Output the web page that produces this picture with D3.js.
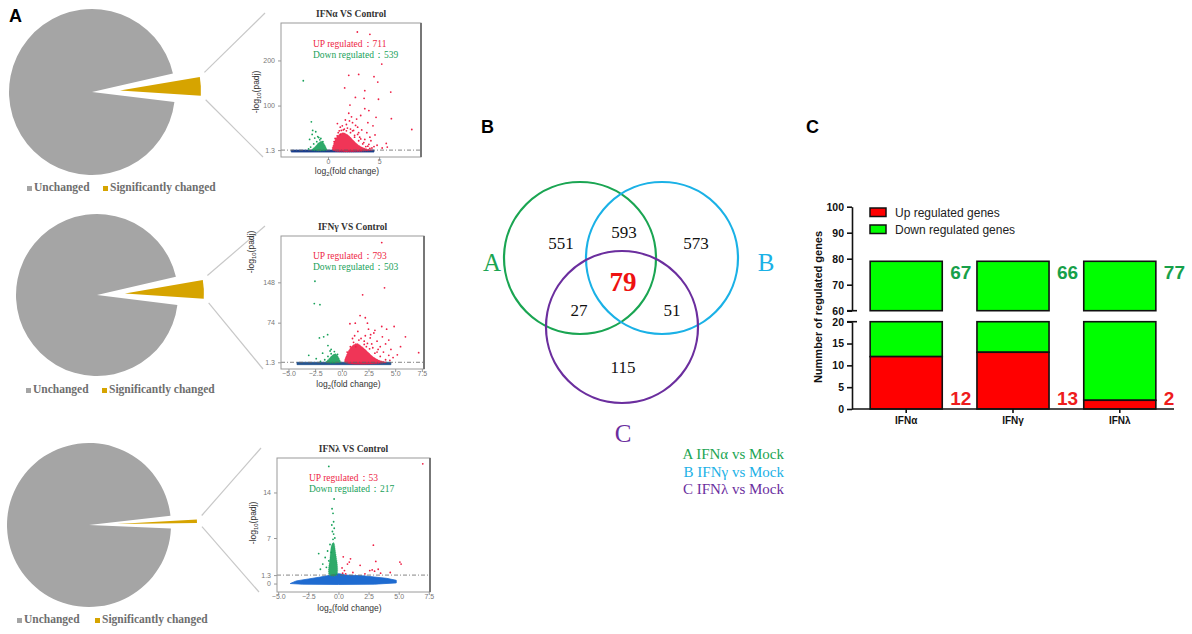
<!DOCTYPE html>
<html>
<head>
<meta charset="utf-8">
<script src="https://cdn.jsdelivr.net/npm/d3@7"></script>
<style>
  body { margin: 0; background: #fff; }
  svg { display: block; }
</style>
</head>
<body>
<svg id="fig" width="1192" height="634"></svg>
<script>
// ---------- data ----------
const pieLegend = ['Unchanged', 'Significantly changed'];
const changedPct = [3.7, 3.8, 0.7];

const volcanoTitles = ['IFNα VS Control', 'IFNγ VS Control', 'IFNλ VS Control'];
const upCounts = [711, 793, 53];
const downCounts = [539, 503, 217];

const v1XTicks = [0, 5];
const v1YTicks = [1.3, 100, 200];
const v2XTicks = [-5, -2.5, 0, 2.5, 5, 7.5];
const v2YTicks = [1.3, 74, 148];
const v3XTicks = [-5, -2.5, 0, 2.5, 5, 7.5];
const v3YTicks = [0, 1.3, 7, 14];

// scattered significant genes [log2FC, -log10 padj]
const v1Up = [[2.87,263],[4.1,258],[5.26,192],[2.03,167],[3.0,169],[4.5,164],[4.87,152],[6.14,130],[1.63,139],
  [3.6,133],[2.68,118],[3.53,116],[4.94,114],[2.15,101],[3.6,93],[4.0,89],[4.7,74],[6.2,71],[8.2,47],[4.6,35],
  [5.7,16],[5.8,8],[2.03,83],[0.92,60],[1.2,52],[1.8,58],[2.4,62],[2.9,52],[3.3,46],[1.5,46],[2.2,48],[3.8,40],
  [2.6,34],[3.1,30],[4.2,22],[3.5,18],[1.1,44],[2.8,70],[3.2,78],[1.7,68],[2.5,45],[4.4,55],[3.9,62],[2.3,75],
  [1.4,55],[3.0,40],[4.1,30],[4.8,12],[5.3,6],[3.7,9],[4.3,6],[2.1,66],[1.9,50],[2.7,56],
  [0.6,20],[0.9,33],[1.3,45],[1.6,48],[2.2,40],[2.6,30],[3.0,22],[3.4,15],[3.9,10],[4.1,5],[1.0,40],[1.8,44],
  [2.9,36],[3.6,25],[4.0,14],[0.7,27],[1.2,36],[2.4,44],[3.2,26],[4.5,9]];
const v1Down = [[-2.42,155],[-1.63,64],[-1.5,45],[-1.2,42],[-1.55,36],[-1.0,31],[-1.8,25],[-1.3,28],[-0.9,29],
  [-1.4,15],[-1.1,20],[-0.8,24],[-1.7,8],[-0.5,20],[-1.9,4],[-0.7,27]];
const v1UpCore = [[0.45,1.3],[0.55,15],[0.8,28],[1.1,36],[1.5,40],[2.0,34],[2.4,25],[2.8,16],[3.3,8],[3.8,4],[4.4,1.3]];
const v1DownCore = [[-1.6,1.3],[-1.3,8],[-0.9,18],[-0.6,21],[-0.35,14],[-0.15,5],[-0.1,1.3]];
const v1Flat = [[-3.6,-3],[-3.6,1.3],[4.5,1.3],[4.5,-3]];

const v2Up = [[3.74,221],[4.0,138],[1.95,125],[1.71,87],[2.2,83],[2.4,73],[3.74,67],[4.2,62],[4.9,67],[4.4,42],
  [5.96,48],[7.2,19],[2.66,46],[1.26,73],[0.76,72],[3.0,55],[3.3,40],[2.8,35],[1.8,45],[2.2,50],[3.6,30],
  [4.6,25],[3.9,20],[5.2,15],[4.8,10],[2.5,62],[1.5,58],[3.1,60],[2.7,52],[1.2,50],[4.1,35],[3.4,25],[2.9,28],
  [5.5,30],[4.4,14],[3.8,48],[2.1,40],[1.0,45],[2.4,36],
  [0.5,20],[0.8,30],[1.1,38],[1.6,42],[2.1,34],[2.6,26],[3.1,18],[3.6,12],[4.1,6],[1.3,30],[2.3,30],[3.3,20],[4.5,5]];
const v2Down = [[-2.52,150],[-2.58,109],[-2.05,107],[-1.33,52],[-2.1,46],[-1.7,48],[-1.3,32],[-3.1,14],[-1.0,25],
  [-1.8,18],[-2.4,8],[-1.1,22],[-1.3,12],[-1.0,17],[-0.7,21],[-1.6,6],[-0.4,16],[-2.0,3]];
const v2UpCore = [[0.3,1.3],[0.45,15],[0.7,25],[1.0,32],[1.4,36],[1.9,30],[2.4,21],[2.9,12],[3.5,5],[4.2,1.3]];
const v2DownCore = [[-1.5,1.3],[-1.2,8],[-0.9,14],[-0.6,17],[-0.35,12],[-0.15,4],[-0.1,1.3]];
const v2Flat = [[-4.2,-3],[-4.2,1.3],[4.6,1.3],[4.6,-3]];

const v3Up = [[7.0,18.4],[2.9,5.9],[0.4,4.1],[0.9,3.3],[0.75,3.0],[1.0,3.8],[1.8,2.8],[3.1,3.4],[2.8,2.1],[3.0,1.9],
  [2.6,2.0],[5.1,3.3],[5.2,3.0],[4.3,1.7],[0.3,2.4],[0.5,2.0],[0.35,1.6],[1.2,1.7],[3.5,1.6],[2.2,1.5],[0.6,1.5],[3.3,2.2]];
const v3Down = [[-0.8,18],[-0.36,13],[-0.53,11.5],[-0.45,10.8],[-0.4,9.5],[-0.35,8.5],[-0.5,8],[-0.3,7],[-0.45,6.8],
  [-1.64,4.6],[-0.7,6],[-0.9,5],[-1.1,4],[-0.6,4.8],[-1.3,3],[-1.5,2.2],[-0.8,3.5],[-1.0,2.5],[-0.4,7.6],[-0.55,9]];
const v3DownCore = [[-0.75,1.3],[-0.7,4],[-0.55,6],[-0.4,6.3],[-0.25,5],[-0.15,1.3]];
const v3Flat = [[-4.0,0],[-3.5,0.4],[-2.5,0.7],[-1.5,1.0],[-0.6,1.3],[-0.1,1.5],[0.1,1.5],[0.6,1.3],[2,1.2],
  [3,1.0],[4,0.8],[4.8,0.5],[4.8,0.1],[3,-0.1],[0,-0.15],[-3,-0.1]];

const vennRegions = ['A', 'AB', 'B', 'ABC', 'AC', 'BC', 'C'];
const vennValues = [551, 593, 573, 79, 27, 51, 115];
const vennSets = ['A', 'B', 'C'];
const vennLegend = ['A IFNα vs Mock', 'B IFNγ vs Mock', 'C IFNλ vs Mock'];

const barCats = ['IFNα', 'IFNγ', 'IFNλ'];
const upGenes = [12, 13, 2];
const downGenes = [67, 66, 77];
const barLegend = ['Up regulated genes', 'Down regulated genes'];
const upperTicks = [60, 70, 80, 90, 100];
const lowerTicks = [0, 5, 10, 15, 20];

// ---------- drawing ----------
const svg = d3.select('#fig');
const SERIF = '"Liberation Serif", "DejaVu Serif", serif';
const SANS = '"Liberation Sans", Arial, sans-serif';
const RED = '#ee1f45', GREEN = '#18a15a';

function panelLetter(t, x, y) {
  svg.append('text').attr('x', x).attr('y', y).text(t)
    .attr('font-family', SANS).attr('font-weight', 'bold').attr('font-size', 18);
}
panelLetter('A', 9, 22);
panelLetter('B', 481, 133);
panelLetter('C', 806, 133);

const volcanoCfg = [
  { box: [281, 23, 421, 157], xd: [-4.6, 9.1], yd: [-14, 283], xt: v1XTicks, yt: v1YTicks, xf: d3.format('d'),
    up: v1Up, down: v1Down, upCore: v1UpCore, downCore: v1DownCore, flat: v1Flat, flatColor: '#1c3f8c',
    labY: 47, xLabDy: 14, yLab: [256, 92] },
  { box: [281, 236, 424, 369], xd: [-5.7, 7.7], yd: [-11, 233], xt: v2XTicks, yt: v2YTicks, xf: d3.format('.1f'),
    up: v2Up, down: v2Down, upCore: v2UpCore, downCore: v2DownCore, flat: v2Flat, flatColor: '#25548f',
    labY: 259, xLabDy: 15, yLab: [251, 252] },
  { box: [277, 458, 430, 592], xd: [-5.1, 7.6], yd: [-1.3, 19.3], xt: v3XTicks, yt: v3YTicks, xf: d3.format('.1f'),
    up: v3Up, down: v3Down, upCore: null, downCore: v3DownCore, flat: v3Flat, flatColor: '#1f6bd0',
    labY: 481, xLabDy: 16, yLab: [253, 523] }
];

// --- pies ---
const pieCfg = [
  { cx: 92, cy: 92, r: 83, dir: 87, legY: 191, legX: [27, 103] },
  { cx: 97, cy: 295, r: 81, dir: 87, legY: 393, legX: [26, 102] },
  { cx: 89, cy: 525, r: 82, dir: 88, legY: 623, legX: [17, 95] }
];

pieCfg.forEach((p, i) => {
  const share = changedPct[i] / 100;
  const dir = p.dir * Math.PI / 180;
  const start = dir - share * Math.PI;
  const arcs = d3.pie().sort(null).startAngle(start).endAngle(start + 2 * Math.PI)([changedPct[i], 100 - changedPct[i]]);
  const g = svg.append('g').attr('transform', `translate(${p.cx},${p.cy})`);
  const pad = 3.2 * Math.PI / 180;
  g.append('path')
    .attr('d', d3.arc().innerRadius(0).outerRadius(p.r)
      .startAngle(arcs[1].startAngle + pad).endAngle(arcs[1].endAngle - pad)())
    .attr('fill', '#a5a5a5');
  const ex = 28;
  const ox = Math.sin(dir) * ex, oy = -Math.cos(dir) * ex;
  g.append('path')
    .attr('transform', `translate(${ox},${oy})`)
    .attr('d', d3.arc().innerRadius(0).outerRadius(p.r - 2)(arcs[0]))
    .attr('fill', '#d6a400');

  // connector lines from the slice corners to the volcano plot
  const tipR = p.r + 3;
  const a1 = arcs[0].startAngle - 0.02, a2 = arcs[0].endAngle + 0.02;
  const vb = volcanoCfg[i].box;
  svg.append('line').attr('x1', p.cx + ox + Math.sin(a1) * tipR).attr('y1', p.cy + oy - Math.cos(a1) * tipR - 2)
    .attr('x2', vb[0] - 16).attr('y2', vb[1] - 10).attr('stroke', '#c8c8c8').attr('stroke-width', 1.2);
  svg.append('line').attr('x1', p.cx + ox + Math.sin(a2) * tipR).attr('y1', p.cy + oy - Math.cos(a2) * tipR + 2)
    .attr('x2', vb[0] - 18).attr('y2', vb[3]).attr('stroke', '#c8c8c8').attr('stroke-width', 1.2);

  // legend
  const colors = ['#a5a5a5', '#d6a400'];
  pieLegend.forEach((lab, k) => {
    svg.append('rect').attr('x', p.legX[k]).attr('y', p.legY - 5).attr('width', 5).attr('height', 5).attr('fill', colors[k]);
    svg.append('text').attr('x', p.legX[k] + 7).attr('y', p.legY).text(lab)
      .attr('font-family', SERIF).attr('font-weight', 'bold').attr('font-size', 11.5).attr('fill', '#6e6e6e');
  });
});

// --- volcano plots ---
volcanoCfg.forEach((c, i) => {
  const [x0, y0, x1, y1] = c.box;
  const x = d3.scaleLinear().domain(c.xd).range([x0, x1]);
  const y = d3.scaleLinear().domain(c.yd).range([y1, y0]);
  const g = svg.append('g');
  const hull = d3.line().x(d => x(d[0])).y(d => y(d[1])).curve(d3.curveCatmullRomClosed);

  g.append('path').attr('d', d3.line().x(d => x(d[0])).y(d => y(d[1])).curve(d3.curveLinearClosed)(c.flat))
    .attr('fill', c.flatColor).attr('stroke', c.flatColor).attr('stroke-width', 0.8);
  if (c.upCore) g.append('path').attr('d', hull(c.upCore)).attr('fill', RED).attr('fill-opacity', 0.9)
    .attr('stroke', RED).attr('stroke-width', 0.5).attr('stroke-dasharray', '1,1');
  g.append('path').attr('d', hull(c.downCore)).attr('fill', GREEN).attr('fill-opacity', 0.9)
    .attr('stroke', GREEN).attr('stroke-width', 0.5).attr('stroke-dasharray', '1,1');

  g.append('line').attr('x1', x0).attr('x2', x1).attr('y1', y(1.3)).attr('y2', y(1.3))
    .attr('stroke', '#666').attr('stroke-width', 0.8).attr('stroke-dasharray', '4,2,1,2');

  g.selectAll('.up').data(c.up).enter().append('circle')
    .attr('cx', d => x(d[0])).attr('cy', d => y(d[1])).attr('r', 0.9).attr('fill', RED);
  g.selectAll('.dn').data(c.down).enter().append('circle')
    .attr('cx', d => x(d[0])).attr('cy', d => y(d[1])).attr('r', 0.9).attr('fill', GREEN);

  // frame
  g.append('rect').attr('x', x0).attr('y', y0).attr('width', x1 - x0).attr('height', y1 - y0)
    .attr('fill', 'none').attr('stroke', '#9a9a9a').attr('stroke-width', 1);
  g.append('line').attr('x1', x1).attr('x2', x1).attr('y1', y0).attr('y2', y1).attr('stroke', '#777').attr('stroke-width', 2);

  const ax = g.append('g').attr('transform', `translate(0,${y1})`)
    .call(d3.axisBottom(x).tickValues(c.xt).tickSize(3).tickFormat(c.xf));
  const ay = g.append('g').attr('transform', `translate(${x0},0)`)
    .call(d3.axisLeft(y).tickValues(c.yt).tickSize(3).tickFormat(d => String(d)));
  [ax, ay].forEach(a => {
    a.select('.domain').remove();
    a.selectAll('line').attr('stroke', '#999');
    a.selectAll('text').attr('fill', '#777').attr('font-family', SANS).attr('font-size', 7);
  });
  ax.selectAll('text').attr('dy', '0.55em').attr('y', 3);

  g.append('text').attr('x', (x0 + x1) / 2).attr('y', y0 - 6).attr('text-anchor', 'middle')
    .attr('font-family', SERIF).attr('font-weight', 'bold').attr('font-size', 9.5).attr('fill', '#333')
    .text(volcanoTitles[i]);

  const lx = x0 + 32;
  g.append('text').attr('x', lx).attr('y', c.labY).attr('font-family', SERIF).attr('font-size', 9.5).attr('fill', RED)
    .text('UP regulated：' + upCounts[i]);
  g.append('text').attr('x', lx).attr('y', c.labY + 11).attr('font-family', SERIF).attr('font-size', 9.5).attr('fill', GREEN)
    .text('Down regulated：' + downCounts[i]);

  const xl = g.append('text').attr('x', (x0 + x1) / 2 - 4).attr('y', y1 + c.xLabDy + 3).attr('text-anchor', 'middle')
    .attr('font-family', SANS).attr('font-size', 8.5).attr('fill', '#333');
  xl.append('tspan').text('log');
  xl.append('tspan').attr('font-size', 6).attr('dy', 2).text('2');
  xl.append('tspan').attr('dy', -2).text('(fold change)');

  const yl = g.append('text').attr('transform', `translate(${c.yLab[0] + 3},${c.yLab[1]}) rotate(-90)`)
    .attr('text-anchor', 'middle').attr('font-family', SANS).attr('font-size', 8.5).attr('fill', '#333');
  yl.append('tspan').text('-log');
  yl.append('tspan').attr('font-size', 6).attr('dy', 2).text('10');
  yl.append('tspan').attr('dy', -2).text('(padj)');
});

// --- Venn ---
const vennCircles = [
  { cx: 580, cy: 258, color: '#1aa552', lab: [492, 271] },
  { cx: 662, cy: 258, color: '#1ab1e6', lab: [766, 271] },
  { cx: 622, cy: 327, color: '#6b2e9e', lab: [623, 442] }
];
const vennPos = { A: [561, 243], AB: [624, 232], B: [696, 243], ABC: [623, 282], AC: [579, 310], BC: [672, 310], C: [623, 367] };

svg.selectAll('.venn').data(vennCircles).enter().append('circle')
  .attr('cx', d => d.cx).attr('cy', d => d.cy).attr('r', 76)
  .attr('fill', 'none').attr('stroke', d => d.color).attr('stroke-width', 2.2);

vennRegions.forEach((reg, k) => {
  const big = reg === 'ABC';
  svg.append('text').attr('x', vennPos[reg][0]).attr('y', vennPos[reg][1]).attr('dy', '0.35em')
    .attr('text-anchor', 'middle').attr('font-family', SERIF)
    .attr('font-size', big ? 27 : 17).attr('font-weight', big ? 'bold' : 'normal')
    .attr('fill', big ? '#ee1111' : '#111').text(vennValues[k]);
});
vennSets.forEach((s, k) => {
  svg.append('text').attr('x', vennCircles[k].lab[0]).attr('y', vennCircles[k].lab[1]).attr('text-anchor', 'middle')
    .attr('font-family', SERIF).attr('font-size', 25).attr('fill', vennCircles[k].color).text(s);
});
vennLegend.forEach((t, k) => {
  svg.append('text').attr('x', 784).attr('y', 459 + k * 17.5).attr('text-anchor', 'end')
    .attr('font-family', SERIF).attr('font-size', 15).attr('fill', vennCircles[k].color).text(t);
});

// --- bar chart with broken axis ---
const axX = 852, axEnd = 1174;
const yUp = d3.scaleLinear().domain([60, 100]).range([310.7, 206.7]);
const yLow = d3.scaleLinear().domain([0, 20]).range([409, 321.7]);
const xb = d3.scaleBand().domain(barCats).range([axX, 1174]).paddingInner(0.325).paddingOuter(0.17);
const bw = xb.bandwidth();
const bars = svg.append('g');

barCats.forEach((cat, k) => {
  const total = upGenes[k] + downGenes[k];
  const bx = xb(cat);
  bars.append('rect').attr('x', bx).attr('y', yUp(total)).attr('width', bw).attr('height', yUp(60) - yUp(total))
    .attr('fill', '#00ff00').attr('stroke', '#111').attr('stroke-width', 1.6);
  bars.append('rect').attr('x', bx).attr('y', yLow(Math.min(total, 20))).attr('width', bw)
    .attr('height', yLow(upGenes[k]) - yLow(Math.min(total, 20)))
    .attr('fill', '#00ff00').attr('stroke', '#111').attr('stroke-width', 1.6);
  bars.append('rect').attr('x', bx).attr('y', yLow(upGenes[k])).attr('width', bw).attr('height', yLow(0) - yLow(upGenes[k]))
    .attr('fill', '#ff0000').attr('stroke', '#111').attr('stroke-width', 1.6);

  bars.append('text').attr('x', bx + bw + 8).attr('y', yUp(total) + 18).text(downGenes[k])
    .attr('font-family', SANS).attr('font-weight', 'bold').attr('font-size', 19).attr('fill', '#17a04a');
  bars.append('text').attr('x', bx + bw + 8).attr('y', yLow(0) - 4).text(upGenes[k])
    .attr('font-family', SANS).attr('font-weight', 'bold').attr('font-size', 19).attr('fill', '#ee1c1c');
});

function styleAxis(a) {
  a.select('.domain').attr('stroke', '#111').attr('stroke-width', 1.6);
  a.selectAll('.tick line').attr('stroke', '#111').attr('stroke-width', 1.6);
  a.selectAll('text').attr('font-family', SANS).attr('font-weight', 'bold').attr('font-size', 10.5).attr('fill', '#111');
}
styleAxis(svg.append('g').attr('transform', `translate(${axX},0)`)
  .call(d3.axisLeft(yUp).tickValues(upperTicks).tickSize(5).tickSizeOuter(0)));
styleAxis(svg.append('g').attr('transform', `translate(${axX},0)`)
  .call(d3.axisLeft(yLow).tickValues(lowerTicks).tickSize(5).tickSizeOuter(0)));
// break marks
[yUp(60), yLow(20)].forEach(yy => {
  svg.append('line').attr('x1', axX - 5).attr('x2', axX + 5).attr('y1', yy).attr('y2', yy)
    .attr('stroke', '#111').attr('stroke-width', 1.6);
});

const xa = svg.append('g').attr('transform', `translate(0,${yLow(0)})`)
  .call(d3.axisBottom(xb).tickSize(4).tickSizeOuter(0));
xa.select('.domain').attr('d', `M${axX},0H${axEnd}`);
styleAxis(xa);
xa.selectAll('text').attr('font-size', 10).attr('y', 8);

svg.append('text').attr('transform', `translate(822,307) rotate(-90)`).attr('text-anchor', 'middle')
  .attr('font-family', SANS).attr('font-weight', 'bold').attr('font-size', 11).attr('fill', '#111')
  .text('Nummber of regulated genes');

const legColors = ['#ff0000', '#00ff00'];
barLegend.forEach((t, k) => {
  svg.append('rect').attr('x', 870).attr('y', 208 + k * 17).attr('width', 16).attr('height', 8.5)
    .attr('fill', legColors[k]).attr('stroke', '#111').attr('stroke-width', 1.5);
  svg.append('text').attr('x', 895).attr('y', 212.5 + k * 17).attr('dy', '0.35em').text(t)
    .attr('font-family', SANS).attr('font-size', 12).attr('fill', '#222');
});
</script>
</body>
</html>
